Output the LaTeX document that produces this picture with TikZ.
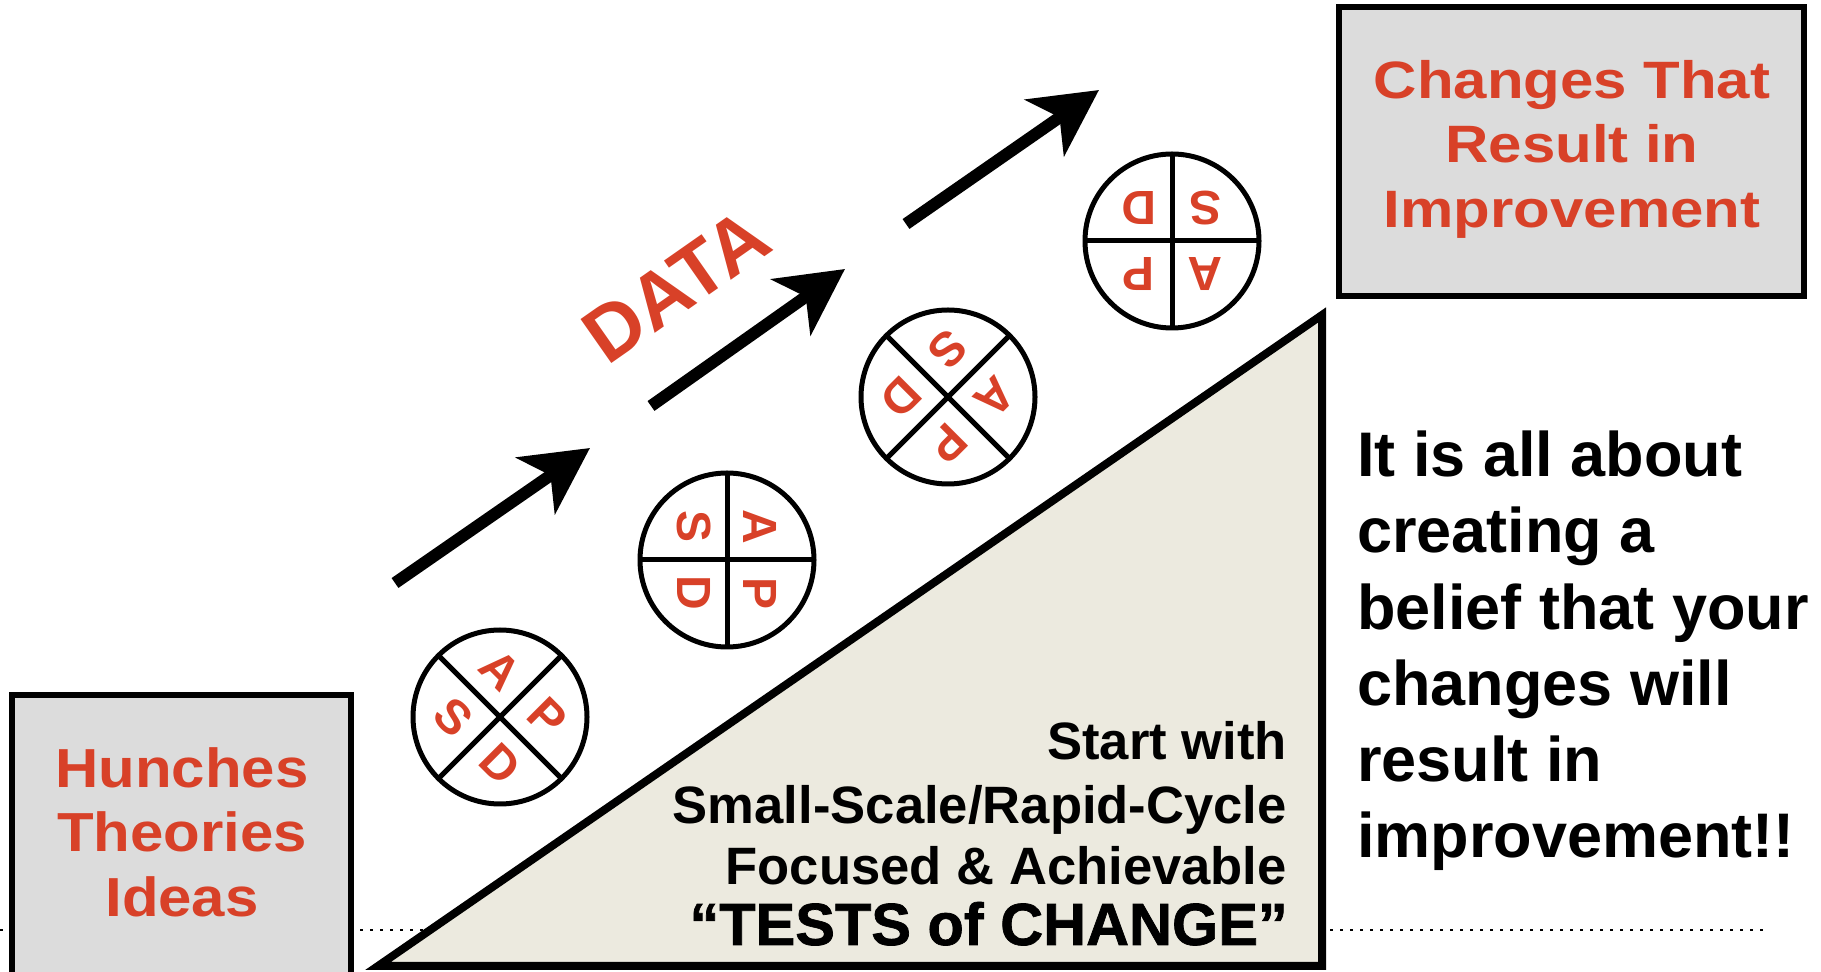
\documentclass[tikz,border=0pt]{standalone}
\usepackage{fontspec}
\setmainfont{Liberation Sans}
\newfontfamily\leftredfont{Liberation Sans}[FakeStretch=1.09]
\newfontfamily\rightredfont{Liberation Sans}[FakeStretch=1.14]
\newfontfamily\heavyfont{Liberation Sans}[FakeBold=1.2]
\usetikzlibrary{arrows.meta}
\definecolor{labelred}{RGB}{216,65,40}
\definecolor{boxgray}{RGB}{220,220,220}
\definecolor{slopefill}{RGB}{236,234,223}

\tikzset{
  graybox/.style={draw=black, line width=6pt, fill=boxgray},
  slope/.style={draw=black, line width=8pt, fill=slopefill, line join=miter},
  baseline dots/.style={line width=2.5pt, dash pattern=on 2.5pt off 7.5pt},
  wheelline/.style={draw=black, line width=5pt},
  wheelletter/.style={text=labelred, inner sep=0pt, transform shape,
    font=\fontsize{48}{48}\selectfont\bfseries},
  bigarrow/.style={line width=12pt,
    -{Stealth[length=66pt, width=68pt, inset=18pt]}},
  hunchtext/.style={text=labelred, inner sep=0pt, anchor=base,
    font=\leftredfont\fontsize{55}{55}\selectfont\bfseries},
  changetext/.style={text=labelred, inner sep=0pt, anchor=base,
    font=\rightredfont\fontsize{52.6}{52.6}\selectfont\bfseries},
  testtext/.style={inner sep=0pt, anchor=base east,
    font=\fontsize{52.6}{52.6}\selectfont\bfseries},
  belieftext/.style={inner sep=0pt, anchor=base west,
    font=\fontsize{63}{63}\selectfont\bfseries},
  pics/pdsa/.style={code={
    \draw[wheelline] (0,0) circle[radius=87pt];
    \draw[wheelline] (-87pt,0) -- (87pt,0);
    \draw[wheelline] (0,-87pt) -- (0,87pt);
    \node[wheelletter] (-act)   at (135:47pt)  {A};
    \node[wheelletter] (-plan)  at (45:47pt)   {P};
    \node[wheelletter] (-do)    at (-45:47pt)  {D};
    \node[wheelletter] (-study) at (-135:47pt) {S};
  }}
}

\begin{document}
\begin{tikzpicture}[x=1pt,y=1pt]
\useasboundingbox (0,0) rectangle (1821,972);

% ground line behind everything
\coordinate (dotL) at (0,42);
\coordinate (dotR) at (1767,42);
\draw[baseline dots] (dotL) -- (dotR);

% starting box
\draw[graybox] (12,-10) rectangle (351,277);
\node[hunchtext] (hunches)  at (182,184) {Hunches};
\node[hunchtext] (theories) at (182,120) {Theories};
\node[hunchtext] (ideas)    at (182,55)  {Ideas};

% goal box
\draw[graybox] (1339,676) rectangle (1804,965);
\node[changetext] (chg1) at (1572,873) {Changes That};
\node[changetext] (chg2) at (1572,809) {Result in};
\node[changetext] (chg3) at (1572,744) {Improvement};

% the ramp of tests
\draw[slope] (378,6) -- (1322,6) -- (1322,657) -- cycle;
\node[testtext] (t1) at (1287,212) {Start with};
\node[testtext] (t2) at (1287,148) {Small-Scale/Rapid-Cycle};
\node[testtext] (t3) at (1287,87)  {Focused \& Achievable};
\node[testtext, font=\heavyfont\fontsize{59.5}{59.5}\selectfont\bfseries] (t4) at (1288,27) {“TESTS of CHANGE”};

% PDSA wheels rolling up the ramp
\pic[rotate=-45]  (w1) at (500,255) {pdsa};
\pic[rotate=-90]  (w2) at (727,412) {pdsa};
\pic[rotate=-135] (w3) at (948,575) {pdsa};
\pic[rotate=-180] (w4) at (1172,731) {pdsa};

% data arrows
\coordinate (a1s) at (395,389);  \coordinate (a1e) at (590,524);
\coordinate (a2s) at (651,566);  \coordinate (a2e) at (845,703);
\coordinate (a3s) at (906,748);  \coordinate (a3e) at (1099,882);
\draw[bigarrow] (a1s) -- (a1e);
\draw[bigarrow] (a2s) -- (a2e);
\draw[bigarrow] (a3s) -- (a3e);
\node[text=labelred, rotate=35, inner sep=0pt,
  font=\fontsize{78}{78}\selectfont\bfseries] (data) at (676,686) {DATA};

% closing statement
\node[belieftext] (b1) at (1357,495) {It is all about};
\node[belieftext] (b2) at (1357,419) {creating a};
\node[belieftext] (b3) at (1357,342) {belief that your};
\node[belieftext] (b4) at (1357,266) {changes will};
\node[belieftext] (b5) at (1357,190) {result in};
\node[belieftext] (b6) at (1357,114) {improvement!!};
\end{tikzpicture}
\end{document}
